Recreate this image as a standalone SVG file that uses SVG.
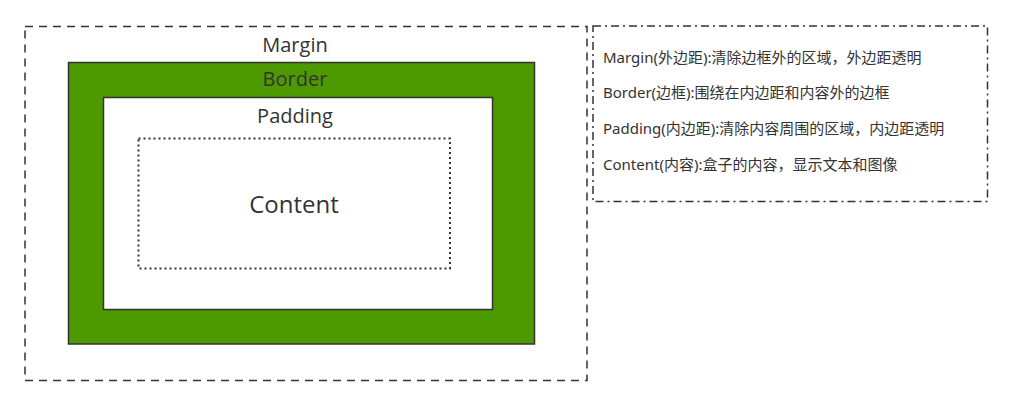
<svg xmlns="http://www.w3.org/2000/svg" width="1012" height="405" viewBox="0 0 1012 405">
<style>
.t{font-family:"Open Sans","Noto Sans","Noto Sans CJK SC",sans-serif;fill:#333;text-anchor:middle}
.s{font-family:"Noto Sans","Noto Sans CJK SC",sans-serif;fill:#333;font-size:15px}
</style>
<rect width="1012" height="405" fill="#fff"/>
<g id="margin">
<rect x="25" y="26.5" width="562" height="354" fill="#fff" stroke="#333" stroke-width="1.5" stroke-dasharray="8 6"/>
<text class="t" x="295" y="52" font-size="20">Margin</text>
</g>
<g id="border">
<rect x="68.5" y="62.5" width="466" height="281.5" fill="#4d9900" stroke="#333" stroke-width="1.5"/>
<text class="t" x="295" y="86" font-size="20">Border</text>
</g>
<g id="padding">
<rect x="103.5" y="97.5" width="389" height="212" fill="#fff" stroke="#333" stroke-width="1.5"/>
<text class="t" x="295" y="123" font-size="20">Padding</text>
</g>
<g id="content">
<rect x="138.5" y="138.5" width="311.5" height="130" fill="#fff" stroke="#333" stroke-width="2" stroke-dasharray="2 3"/>
<text class="t" x="294" y="213" font-size="24">Content</text>
</g>
<g id="legend">
<rect x="593" y="26" width="394.5" height="175.5" fill="#fff" stroke="#333" stroke-width="1.5" stroke-dasharray="8 4 2 4"/>
<text class="s" x="603" y="63">Margin(外边距):清除边框外的区域，外边距透明</text>
<text class="s" x="603" y="98">Border(边框):围绕在内边距和内容外的边框</text>
<text class="s" x="603" y="134">Padding(内边距):清除内容周围的区域，内边距透明</text>
<text class="s" x="603" y="170">Content(内容):盒子的内容，显示文本和图像</text>
</g>
<g id="connectors"></g>
</svg>
